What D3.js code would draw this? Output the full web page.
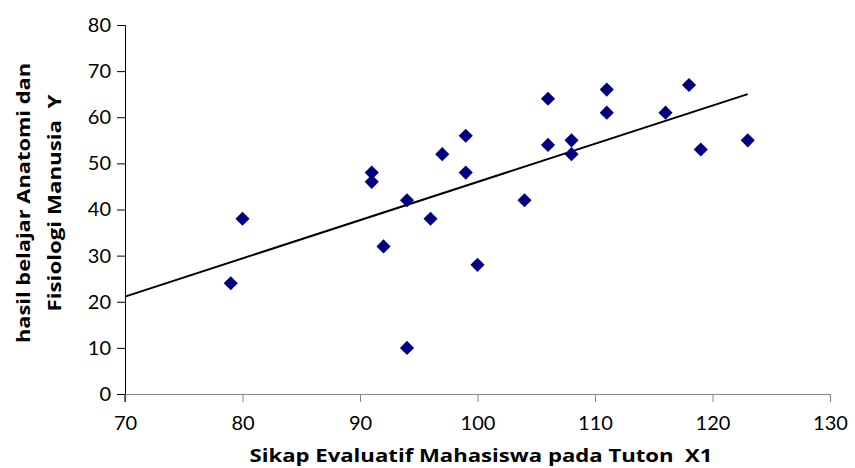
<!DOCTYPE html>
<meta charset="utf-8">
<style>
  html, body { margin: 0; padding: 0; background: #fff; }
  svg { display: block; }
  .tick text { font-family: Lato, "Open Sans", sans-serif; font-size: 20px; fill: #000; }
  .title { font-family: "Open Sans", sans-serif; font-size: 18px; font-weight: bold; fill: #000; white-space: pre; }
</style>
<svg id="chart" width="855" height="468"></svg>
<script src="https://cdn.jsdelivr.net/npm/d3@7"></script>
<script>
  // X1: sikap evaluatif, Y: hasil belajar
  const xValues = [79, 80, 91, 91, 92, 94, 94, 96, 97, 99, 99, 100, 104, 106, 106, 108, 108, 111, 111, 116, 118, 119, 123];
  const yValues = [24, 38, 48, 46, 32, 42, 10, 38, 52, 56, 48, 28, 42, 64, 54, 55, 52, 66, 61, 61, 67, 53, 55];
  const xTicks = [70, 80, 90, 100, 110, 120, 130];
  const yTicks = [0, 10, 20, 30, 40, 50, 60, 70, 80];

  const svg = d3.select("#chart");
  const plotL = 125, plotR = 830, plotT = 25, plotB = 394;

  const x = d3.scaleLinear().domain([70, 130]).range([plotL, plotR]);
  const y = d3.scaleLinear().domain([0, 80]).range([plotB, plotT]);

  // y axis
  const gy = svg.append("g").attr("transform", `translate(${plotL},0)`)
    .call(d3.axisLeft(y).tickValues(yTicks).tickSize(8).tickPadding(6));
  gy.select(".domain").attr("stroke", "#000").attr("stroke-width", 1);
  gy.selectAll(".tick line").attr("stroke", "#000");

  // x axis
  const gx = svg.append("g").attr("transform", `translate(0,${plotB})`)
    .call(d3.axisBottom(x).tickValues(xTicks).tickSize(8).tickPadding(14));
  gx.select(".domain").attr("stroke", "#868686").attr("stroke-width", 1.2);
  gx.selectAll(".tick line").attr("stroke", "#868686");
  svg.append("line").attr("x1", plotL).attr("x2", plotL).attr("y1", plotB).attr("y2", plotB + 8)
    .attr("stroke", "#000");

  // trend line (least squares)
  const n = xValues.length;
  const mx = d3.mean(xValues), my = d3.mean(yValues);
  let sxy = 0, sxx = 0;
  for (let i = 0; i < n; i++) {
    sxy += (xValues[i] - mx) * (yValues[i] - my);
    sxx += (xValues[i] - mx) * (xValues[i] - mx);
  }
  const slope = sxy / sxx, icpt = my - slope * mx;
  const trendX = [70, d3.max(xValues)];
  svg.append("path")
    .datum(trendX)
    .attr("fill", "none").attr("stroke", "#000").attr("stroke-width", 2)
    .attr("d", d3.line().x(d => x(d)).y(d => y(icpt + slope * d)));

  // points
  const diamond = d3.symbol().type(d3.symbolSquare).size(100);
  svg.append("g").selectAll("path")
    .data(xValues.map((v, i) => [v, yValues[i]]))
    .join("path")
    .attr("d", diamond)
    .attr("fill", "#000080")
    .attr("transform", d => `translate(${x(d[0])},${y(d[1])}) rotate(45)`);

  // titles
  svg.append("text").attr("class", "title")
    .attr("x", 481).attr("y", 462).attr("text-anchor", "middle")
    .attr("textLength", 463).attr("lengthAdjust", "spacingAndGlyphs")
    .text("Sikap Evaluatif Mahasiswa pada Tuton  X1");

  const yt = svg.append("text").attr("class", "title")
    .attr("transform", "translate(0,203) rotate(-90)").attr("text-anchor", "middle");
  yt.append("tspan").attr("x", 0).attr("y", 30)
    .attr("textLength", 280).attr("lengthAdjust", "spacingAndGlyphs")
    .text("hasil belajar Anatomi dan");
  yt.append("tspan").attr("x", 0).attr("y", 61)
    .attr("textLength", 217).attr("lengthAdjust", "spacingAndGlyphs")
    .text("Fisiologi Manusia  Y");
</script>
